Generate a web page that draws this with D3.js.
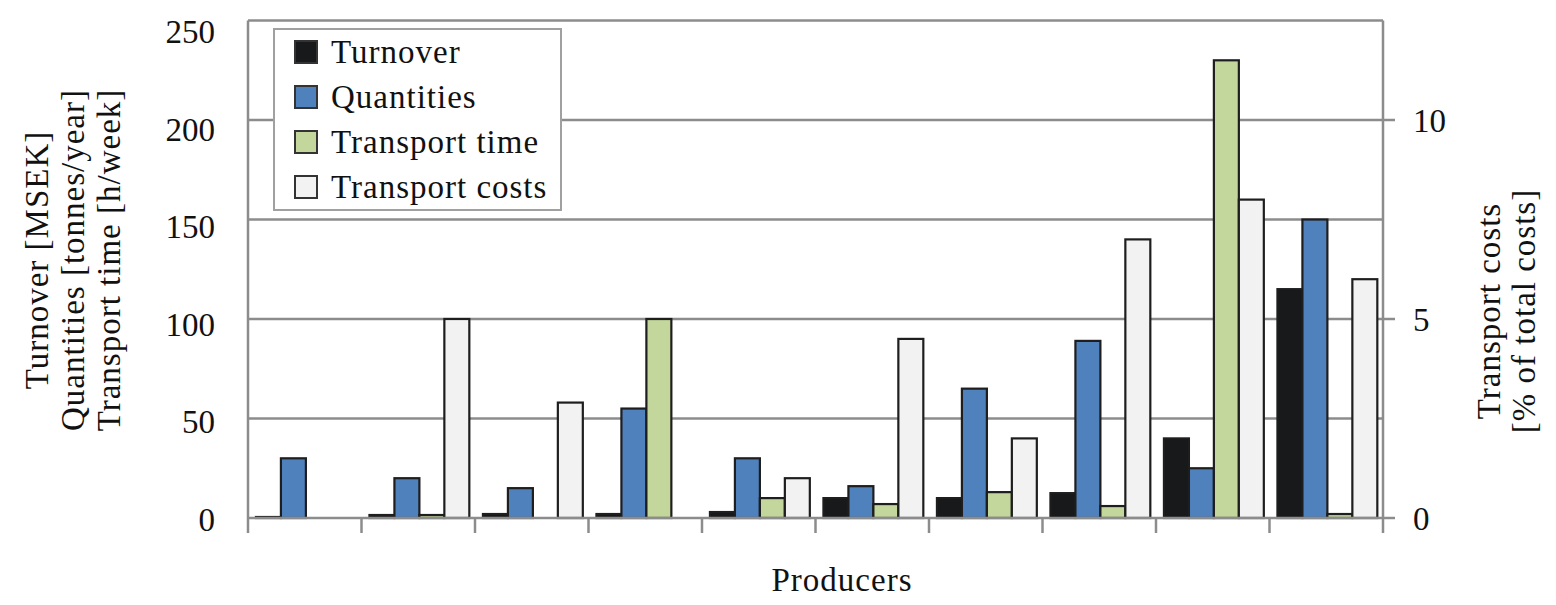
<!DOCTYPE html>
<html>
<head>
<meta charset="utf-8">
<script src="https://cdn.jsdelivr.net/npm/d3@7"></script>
<style>
body { margin: 0; background: #fff; }
text { font-family: "Liberation Serif", "Times New Roman", Times, serif; fill: #111; }
.grid line { stroke: #8c8c8c; stroke-width: 2.5px; }
.bar { stroke: #1e1e1e; stroke-width: 2.2px; }
</style>
</head>
<body>
<script>
// values (left axis units, costs in %)
var producers = ["1", "2", "3", "4", "5", "6", "7", "8", "9", "10"];
var series = ["Turnover", "Quantities", "Transport time", "Transport costs"];
var colors = ["#17191a", "#4f81bd", "#c3d69b", "#f2f2f2"];
var turnover = [0.5, 1.5, 2, 2, 3, 10, 10, 12.5, 40, 115];
var quantities = [30, 20, 15, 55, 30, 16, 65, 89, 25, 150];
var transportTime = [0, 1.5, 0, 100, 10, 7, 13, 6, 230, 2];
var transportCosts = [0, 5, 2.9, 0, 1, 4.5, 2, 7, 8, 6];
var leftTicks = [0, 50, 100, 150, 200, 250];
var rightTicks = [0, 5, 10];

var width = 1556, height = 605;
var plotLeft = 248, plotRight = 1383, plotTop = 20.5, plotBottom = 518;

var svg = d3.select("body").append("svg")
    .attr("width", width)
    .attr("height", height);

var x0 = d3.scaleBand().domain(producers).range([plotLeft, plotRight]);
var bw = x0.bandwidth();
var x1 = d3.scaleBand().domain(series).range([bw * 0.07, bw * 0.95]);
var y = d3.scaleLinear().domain([0, 250]).range([plotBottom, plotTop]);
var yR = d3.scaleLinear().domain([0, 12.5]).range([plotBottom, plotTop]);

// gridlines
svg.append("g").attr("class", "grid")
    .selectAll("line")
    .data(leftTicks.slice(1))
    .enter().append("line")
    .attr("x1", plotLeft).attr("x2", plotRight)
    .attr("y1", d => y(d)).attr("y2", d => y(d));

// bars
var rows = producers.map((p, i) => ({
    producer: p,
    values: [
        {s: series[0], v: turnover[i], sc: y},
        {s: series[1], v: quantities[i], sc: y},
        {s: series[2], v: transportTime[i], sc: y},
        {s: series[3], v: transportCosts[i], sc: yR}
    ]
}));

var group = svg.selectAll(".grp")
    .data(rows)
    .enter().append("g")
    .attr("class", "grp")
    .attr("transform", d => "translate(" + x0(d.producer) + ",0)");

group.selectAll("rect")
    .data(d => d.values.filter(e => e.v > 0))
    .enter().append("rect")
    .attr("class", "bar")
    .attr("x", d => x1(d.s))
    .attr("width", x1.bandwidth())
    .attr("y", d => d.sc(d.v))
    .attr("height", d => plotBottom - d.sc(d.v))
    .style("fill", d => colors[series.indexOf(d.s)]);

// frame
var frame = svg.append("g").attr("class", "grid");
frame.append("line").attr("x1", plotLeft).attr("x2", plotLeft).attr("y1", plotTop).attr("y2", 533);
frame.append("line").attr("x1", plotRight).attr("x2", plotRight).attr("y1", plotTop).attr("y2", 533);
frame.append("line").attr("x1", plotLeft).attr("x2", plotRight).attr("y1", plotBottom).attr("y2", plotBottom);

// bottom tick marks at group boundaries
frame.selectAll(".xt")
    .data(producers.slice(1))
    .enter().append("line")
    .attr("x1", d => x0(d)).attr("x2", d => x0(d))
    .attr("y1", plotBottom).attr("y2", 533);

// right tick marks
frame.selectAll(".rt")
    .data(rightTicks)
    .enter().append("line")
    .attr("x1", plotRight).attr("x2", plotRight + 12)
    .attr("y1", d => yR(d)).attr("y2", d => yR(d));

// tick labels (left ones sit a little low in the original, more so at the top)
svg.selectAll(".ly")
    .data(leftTicks)
    .enter().append("text")
    .attr("x", 215)
    .attr("y", d => y(d) + 1 + d / 250 * 10)
    .attr("dy", "0.35em")
    .attr("text-anchor", "end")
    .style("font-size", "33px")
    .text(d => d);

svg.selectAll(".ry")
    .data(rightTicks)
    .enter().append("text")
    .attr("x", 1413)
    .attr("y", d => yR(d))
    .attr("dy", "0.35em")
    .style("font-size", "33px")
    .text(d => d);

// axis titles
var leftTitle = ["Turnover [MSEK]", "Quantities [tonnes/year]", "Transport time [h/week]"];
svg.selectAll(".lt")
    .data(leftTitle)
    .enter().append("text")
    .attr("transform", (d, i) => "translate(" + (48 + i * 36) + ",260) rotate(-90)")
    .attr("text-anchor", "middle")
    .style("font-size", "33px")
    .style("letter-spacing", "1px")
    .text(d => d);

var rightTitle = ["Transport costs", "[% of total costs]"];
svg.selectAll(".rtt")
    .data(rightTitle)
    .enter().append("text")
    .attr("transform", (d, i) => "translate(" + (1500 + i * 35) + ",311) rotate(-90)")
    .attr("text-anchor", "middle")
    .style("font-size", "33px")
    .style("letter-spacing", "1px")
    .text(d => d);

svg.append("text")
    .attr("x", 842).attr("y", 591)
    .attr("text-anchor", "middle")
    .style("font-size", "33px")
    .style("letter-spacing", "1px")
    .text("Producers");

// legend
var legend = svg.append("g").attr("transform", "translate(274,29)");
legend.append("rect")
    .attr("width", 287).attr("height", 181)
    .style("fill", "#fff")
    .style("stroke", "#a0a0a0")
    .style("stroke-width", "2px");

var item = legend.selectAll(".item")
    .data(series)
    .enter().append("g")
    .attr("transform", (d, i) => "translate(0," + (23 + i * 45) + ")");

item.append("rect")
    .attr("x", 21).attr("y", -11)
    .attr("width", 22).attr("height", 22)
    .style("fill", (d, i) => colors[i])
    .style("stroke", "#333")
    .style("stroke-width", "2px");

item.append("text")
    .attr("x", 57).attr("y", 11)
    .style("font-size", "33px")
    .style("letter-spacing", "1px")
    .text(d => d);
</script>
</body>
</html>
